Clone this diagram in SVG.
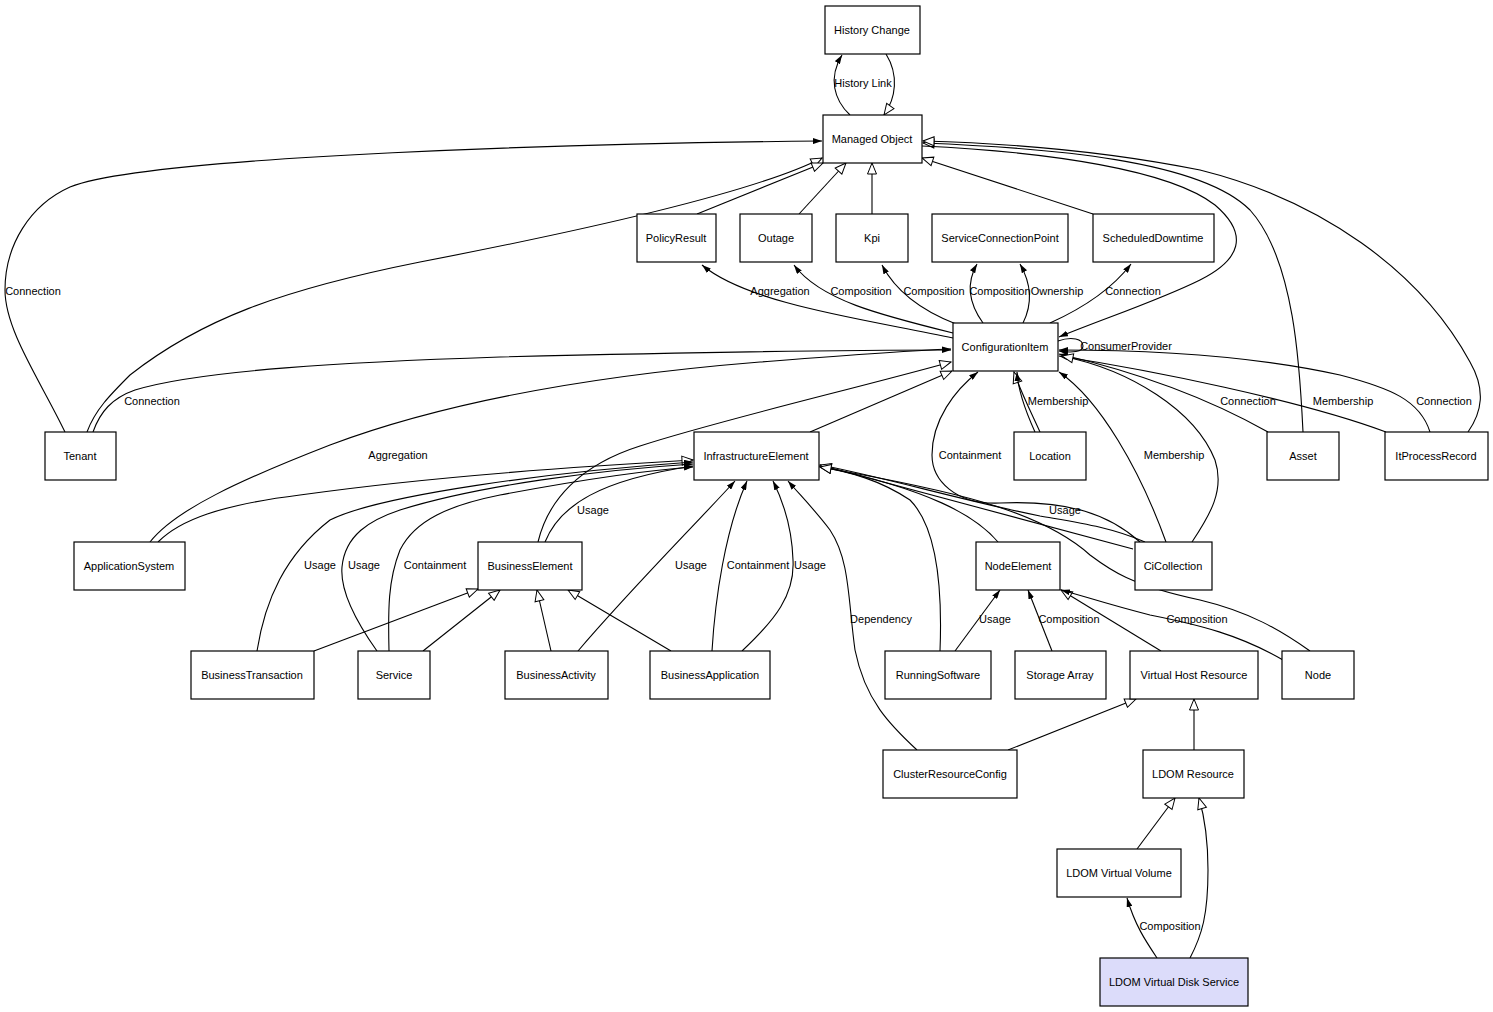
<svg xmlns="http://www.w3.org/2000/svg" width="1493" height="1012" viewBox="0 0 1493 1012">
<style>
.n rect{fill:#fff;stroke:#000;stroke-width:1.2}
text{font-family:"Liberation Sans",Arial,sans-serif;font-size:11px;fill:#000}
.n text{text-anchor:middle}
.l{text-anchor:middle}
.e path{fill:none;stroke:#000;stroke-width:1.1}
.a{marker-end:url(#f)}
.g{marker-end:url(#h)}
</style>
<defs>
<marker id="f" viewBox="0 0 9 6" refX="9" refY="3" markerWidth="9" markerHeight="6" orient="auto" markerUnits="userSpaceOnUse"><path d="M0,0L9,3L0,6z" fill="#000"/></marker>
<marker id="h" viewBox="-1 -1 13 11" refX="11" refY="4.5" markerWidth="13" markerHeight="11" orient="auto" markerUnits="userSpaceOnUse"><path d="M0,0L11,4.5L0,9z" fill="#fff" stroke="#000" stroke-width="1"/></marker>
</defs>
<rect width="1493" height="1012" fill="#fff"/>
<g class="e" id="connectors">
<path class="a" d="M850,115 C834,100 828,78 842,55"/>
<path class="g" d="M886,54 C899,75 896,98 884,115"/>
<path class="a" d="M65,432 C40,380 5,330 5,290 C5,245 30,205 70,187 C150,155 600,143 822,141"/>
<path class="g" d="M87,432 C95,410 110,395 130,375 C200,320 280,290 420,262 C560,235 750,195 822,158"/>
<path class="a" d="M93,432 C100,412 112,398 135,390 C200,370 350,362 500,357 C700,352 850,350 951,350"/>
<path class="a" d="M150,542 C175,510 240,480 330,445 C450,400 600,375 760,362 C850,355 900,351 951,349"/>
<path class="g" d="M158,542 C180,520 220,505 300,495 C420,478 550,468 693,460"/>
<path class="a" d="M257,651 C265,600 285,555 330,520 C380,495 550,472 693,462"/>
<path class="a" d="M377,651 C355,620 340,590 342,567 C345,535 370,520 400,510 C480,485 600,470 693,464"/>
<path class="a" d="M389,651 C388,610 388,580 400,550 C415,520 450,505 500,495 C580,480 650,470 693,467"/>
<path class="a" d="M545,542 C560,505 600,480 693,466"/>
<path class="g" d="M538,542 C548,500 580,465 640,446 C720,420 850,390 951,362"/>
<path class="g" d="M810,432 L952,371"/>
<path class="a" d="M953,338 C870,320 750,305 702,265"/>
<path class="a" d="M953,333 C880,315 820,300 794,265"/>
<path class="a" d="M956,324 C920,310 895,290 882,265"/>
<path class="a" d="M983,323 C970,305 965,285 977,264"/>
<path class="a" d="M1023,323 C1032,305 1032,285 1020,264"/>
<path class="a" d="M1050,323 C1090,305 1115,285 1131,264"/>
<path class="g" d="M697,214 L823,163"/>
<path class="g" d="M799,214 L846,163"/>
<path class="g" d="M872,214 L872,163"/>
<path class="g" d="M1093,214 L922,158"/>
<path class="g" d="M1303,432 C1300,370 1295,260 1250,210 C1200,160 1050,148 923,143"/>
<path class="g" d="M1468,432 C1482,412 1486,390 1470,362 C1420,270 1320,200 1200,170 C1100,150 1000,143 923,141"/>
<path class="a" d="M922,146 C1050,152 1170,170 1215,205 C1250,235 1240,260 1200,280 C1160,300 1100,320 1059,337"/>
<path class="a" d="M1058,341 C1072,336 1083,339 1083,346 C1083,352 1072,353 1059,351"/>
<path class="a" d="M1268,432 C1220,405 1150,375 1059,354"/>
<path class="a" d="M1386,432 C1300,400 1150,370 1059,356"/>
<path class="a" d="M1430,432 C1420,400 1390,388 1340,375 C1250,355 1150,350 1059,350"/>
<path class="g" d="M1192,542 C1210,515 1225,490 1215,460 C1195,410 1130,370 1062,356"/>
<path class="a" d="M1166,542 C1140,470 1100,400 1059,372"/>
<path class="a" d="M1140,542 C1110,515 1070,500 1000,503 C955,505 932,480 932,455 C932,420 955,390 978,372"/>
<path class="g" d="M1040,432 C1030,410 1020,390 1014,372"/>
<path class="a" d="M1035,432 C1025,410 1018,390 1017,372"/>
<path class="g" d="M998,542 C975,515 930,490 820,466"/>
<path class="g" d="M940,651 C942,600 940,530 910,500 C880,480 850,472 820,467"/>
<path class="a" d="M1145,542 C1110,527 1080,523 1040,516 C960,500 880,476 820,465"/>
<path class="g" d="M1133,549 L820,465"/>
<path class="g" d="M1310,651 C1280,630 1250,612 1200,600 C1130,585 1110,570 1090,555 C1040,510 950,490 820,467"/>
<path class="a" d="M578,651 C630,590 690,530 735,481"/>
<path class="a" d="M712,651 C715,600 725,530 747,481"/>
<path class="a" d="M742,651 C775,620 795,595 793,560 C792,530 785,505 773,481"/>
<path class="a" d="M917,750 C890,725 865,700 855,650 C848,600 850,560 830,530 C815,510 800,495 788,481"/>
<path class="g" d="M314,651 L478,589"/>
<path class="g" d="M423,651 L500,590"/>
<path class="g" d="M551,651 L537,590"/>
<path class="g" d="M671,651 L568,590"/>
<path class="a" d="M955,651 L1000,590"/>
<path class="a" d="M1052,651 L1028,590"/>
<path class="g" d="M1161,651 L1061,590"/>
<path class="a" d="M1283,660 C1240,635 1200,625 1150,615 C1110,605 1080,595 1061,590"/>
<path class="g" d="M1008,750 L1136,699"/>
<path class="g" d="M1194,750 L1194,699"/>
<path class="g" d="M1137,849 L1175,798"/>
<path class="g" d="M1190,958 C1202,935 1208,915 1208,870 C1208,840 1204,815 1199,798"/>
<path class="a" d="M1157,958 C1145,940 1135,925 1127,898"/>
</g>
<g id="labels">
<text class="l" x="863" y="87">History Link</text>
<text class="l" x="33" y="295">Connection</text>
<text class="l" x="152" y="405">Connection</text>
<text class="l" x="398" y="459">Aggregation</text>
<text class="l" x="320" y="569">Usage</text>
<text class="l" x="364" y="569">Usage</text>
<text class="l" x="435" y="569">Containment</text>
<text class="l" x="593" y="514">Usage</text>
<text class="l" x="691" y="569">Usage</text>
<text class="l" x="758" y="569">Containment</text>
<text class="l" x="810" y="569">Usage</text>
<text class="l" x="881" y="623">Dependency</text>
<text class="l" x="995" y="623">Usage</text>
<text class="l" x="1069" y="623">Composition</text>
<text class="l" x="1197" y="623">Composition</text>
<text class="l" x="1065" y="514">Usage</text>
<text class="l" x="970" y="459">Containment</text>
<text class="l" x="1174" y="459">Membership</text>
<text class="l" x="1058" y="405">Membership</text>
<text class="l" x="1248" y="405">Connection</text>
<text class="l" x="1343" y="405">Membership</text>
<text class="l" x="1444" y="405">Connection</text>
<text class="l" x="1126" y="350">ConsumerProvider</text>
<text class="l" x="780" y="295">Aggregation</text>
<text class="l" x="861" y="295">Composition</text>
<text class="l" x="934" y="295">Composition</text>
<text class="l" x="1000" y="295">Composition</text>
<text class="l" x="1057" y="295">Ownership</text>
<text class="l" x="1133" y="295">Connection</text>
<text class="l" x="1170" y="930">Composition</text>
</g>
<g class="n" id="HistoryChange"><rect x="825" y="6" width="95" height="48"/><text x="872" y="34">History Change</text></g>
<g class="n" id="ManagedObject"><rect x="823" y="115" width="99" height="48"/><text x="872" y="143">Managed Object</text></g>
<g class="n" id="PolicyResult"><rect x="637" y="214" width="79" height="48"/><text x="676" y="242">PolicyResult</text></g>
<g class="n" id="Outage"><rect x="740" y="214" width="72" height="48"/><text x="776" y="242">Outage</text></g>
<g class="n" id="Kpi"><rect x="836" y="214" width="72" height="48"/><text x="872" y="242">Kpi</text></g>
<g class="n" id="ServiceConnectionPoint"><rect x="932" y="214" width="136" height="48"/><text x="1000" y="242">ServiceConnectionPoint</text></g>
<g class="n" id="ScheduledDowntime"><rect x="1093" y="214" width="121" height="48"/><text x="1153" y="242">ScheduledDowntime</text></g>
<g class="n" id="ConfigurationItem"><rect x="953" y="323" width="105" height="48"/><text x="1005" y="351">ConfigurationItem</text></g>
<g class="n" id="Tenant"><rect x="45" y="432" width="71" height="48"/><text x="80" y="460">Tenant</text></g>
<g class="n" id="InfrastructureElement"><rect x="694" y="432" width="125" height="48"/><text x="756" y="460">InfrastructureElement</text></g>
<g class="n" id="Location"><rect x="1014" y="432" width="72" height="48"/><text x="1050" y="460">Location</text></g>
<g class="n" id="Asset"><rect x="1267" y="432" width="72" height="48"/><text x="1303" y="460">Asset</text></g>
<g class="n" id="ItProcessRecord"><rect x="1385" y="432" width="103" height="48"/><text x="1436" y="460">ItProcessRecord</text></g>
<g class="n" id="ApplicationSystem"><rect x="74" y="542" width="111" height="48"/><text x="129" y="570">ApplicationSystem</text></g>
<g class="n" id="BusinessElement"><rect x="478" y="542" width="104" height="48"/><text x="530" y="570">BusinessElement</text></g>
<g class="n" id="NodeElement"><rect x="976" y="542" width="84" height="48"/><text x="1018" y="570">NodeElement</text></g>
<g class="n" id="CiCollection"><rect x="1135" y="542" width="77" height="48"/><text x="1173" y="570">CiCollection</text></g>
<g class="n" id="BusinessTransaction"><rect x="191" y="651" width="123" height="48"/><text x="252" y="679">BusinessTransaction</text></g>
<g class="n" id="Service"><rect x="358" y="651" width="72" height="48"/><text x="394" y="679">Service</text></g>
<g class="n" id="BusinessActivity"><rect x="505" y="651" width="103" height="48"/><text x="556" y="679">BusinessActivity</text></g>
<g class="n" id="BusinessApplication"><rect x="650" y="651" width="120" height="48"/><text x="710" y="679">BusinessApplication</text></g>
<g class="n" id="RunningSoftware"><rect x="885" y="651" width="106" height="48"/><text x="938" y="679">RunningSoftware</text></g>
<g class="n" id="StorageArray"><rect x="1015" y="651" width="91" height="48"/><text x="1060" y="679">Storage Array</text></g>
<g class="n" id="VirtualHostResource"><rect x="1130" y="651" width="128" height="48"/><text x="1194" y="679">Virtual Host Resource</text></g>
<g class="n" id="Node"><rect x="1282" y="651" width="72" height="48"/><text x="1318" y="679">Node</text></g>
<g class="n" id="ClusterResourceConfig"><rect x="883" y="750" width="134" height="48"/><text x="950" y="778">ClusterResourceConfig</text></g>
<g class="n" id="LDOMResource"><rect x="1143" y="750" width="101" height="48"/><text x="1193" y="778">LDOM Resource</text></g>
<g class="n" id="LDOMVirtualVolume"><rect x="1057" y="849" width="124" height="48"/><text x="1119" y="877">LDOM Virtual Volume</text></g>
<g class="n" id="LDOMVirtualDiskService"><rect x="1100" y="958" width="148" height="48" style="fill:#dcdcfa"/><text x="1174" y="986">LDOM Virtual Disk Service</text></g>
</svg>
